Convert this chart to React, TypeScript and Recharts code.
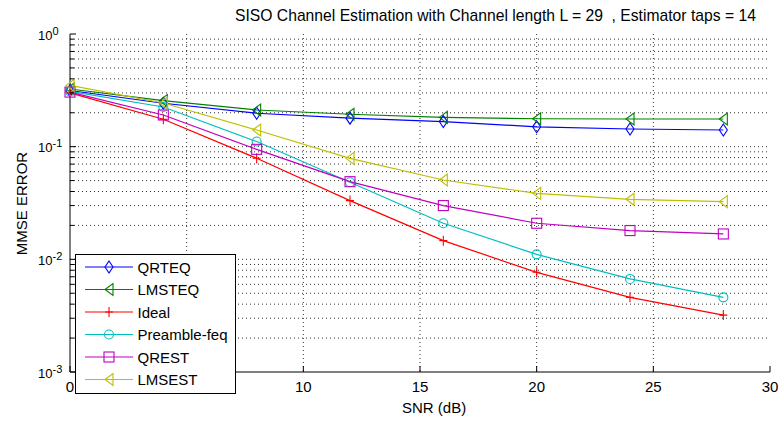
import { LineChart, Line, XAxis, YAxis, CartesianGrid } from 'recharts';

const FONT = '"Liberation Sans", Arial, Helvetica, sans-serif';

// SNR points (dB) and MMSE per estimator
const snr = [0, 4, 8, 12, 16, 20, 24, 28];
const qrteq = [0.315, 0.243, 0.198, 0.179, 0.167, 0.15, 0.1435, 0.1406];
const lmsteq = [0.325, 0.256, 0.2115, 0.194, 0.182, 0.177, 0.176, 0.176];
const ideal = [0.3, 0.175, 0.0789, 0.0332, 0.01465, 0.00767, 0.0046, 0.0032];
const preambleFeq = [0.31, 0.225, 0.111, 0.0483, 0.0209, 0.01107, 0.0067, 0.0046];
const qrest = [0.305, 0.191, 0.0947, 0.0489, 0.03, 0.0209, 0.018, 0.0168];
const lmsest = [0.35, 0.244, 0.1406, 0.0788, 0.0506, 0.0385, 0.0341, 0.0325];

const xTicks = [0, 5, 10, 15, 20, 25, 30];
const xGrid = [5, 10, 15, 20, 25];
const decades = [0.001, 0.01, 0.1, 1];
const minorSteps = [2, 3, 4, 5, 6, 7, 8, 9];

const minorTicks = decades.slice(0, 3).flatMap((d) => minorSteps.map((m) => +(d * m).toPrecision(3)));
const yTicks = [...decades, ...minorTicks].sort((a, b) => a - b);
const yGrid = [...minorTicks, 0.01, 0.1];

type Kind = 'diamond' | 'left' | 'plus' | 'circle' | 'square';

const series: { name: string; values: number[]; color: string; marker: Kind }[] = [
  { name: 'QRTEQ', values: qrteq, color: '#0000ff', marker: 'diamond' },
  { name: 'LMSTEQ', values: lmsteq, color: '#008000', marker: 'left' },
  { name: 'Ideal', values: ideal, color: '#ff0000', marker: 'plus' },
  { name: 'Preamble-feq', values: preambleFeq, color: '#00bfbf', marker: 'circle' },
  { name: 'QREST', values: qrest, color: '#bf00bf', marker: 'square' },
  { name: 'LMSEST', values: lmsest, color: '#bfbf00', marker: 'left' },
];

const rows = snr.map((x, i) => {
  const row: Record<string, number> = { snr: x };
  series.forEach((s) => {
    row[s.name] = s.values[i];
  });
  return row;
});

const Marker = ({ cx, cy, kind, color }: { cx: number; cy: number; kind: Kind; color: string }) => {
  const common = { fill: 'none', stroke: color, strokeWidth: 1.1 };
  switch (kind) {
    case 'diamond':
      return <polygon points={`${cx},${cy - 6} ${cx + 4},${cy} ${cx},${cy + 6} ${cx - 4},${cy}`} {...common} />;
    case 'left':
      return <polygon points={`${cx - 4},${cy} ${cx + 4},${cy - 6} ${cx + 4},${cy + 6}`} {...common} />;
    case 'plus':
      return <path d={`M${cx - 4},${cy}H${cx + 4}M${cx},${cy - 5}V${cy + 5}`} {...common} />;
    case 'circle':
      return <circle cx={cx} cy={cy} r={4.5} {...common} />;
    default:
      return <rect x={cx - 5} y={cy - 5} width={10} height={10} {...common} />;
  }
};

const isDecade = (v: number) => Math.abs(Math.log10(v) - Math.round(Math.log10(v))) < 1e-6;

const BottomTick = (props: any) => {
  const { x, y, payload } = props;
  return (
    <g>
      <line x1={x} y1={y} x2={x} y2={y - 6} stroke="#000" />
      <text x={x} y={y + 19.5} textAnchor="middle" fontSize={15} fill="#000" fontFamily={FONT}>
        {payload.value}
      </text>
    </g>
  );
};

const TopTick = (props: any) => {
  const { x, y } = props;
  return <line x1={x} y1={y} x2={x} y2={y + 6} stroke="#000" />;
};

const LeftTick = (props: any) => {
  const { x, y, payload } = props;
  const major = isDecade(payload.value);
  return (
    <g>
      <line x1={x} y1={y} x2={x + (major ? 6 : 4)} y2={y} stroke="#000" />
      {major && (
        <text x={x - 32} y={y + 5.5} fontSize={13} fill="#000" fontFamily={FONT}>
          10
          <tspan dy={-5} fontSize={11}>
            {Math.round(Math.log10(payload.value))}
          </tspan>
        </text>
      )}
    </g>
  );
};

const RightTick = (props: any) => {
  const { x, y, payload } = props;
  const major = isDecade(payload.value);
  return <line x1={x} y1={y} x2={x - (major ? 6 : 4)} y2={y} stroke="#000" />;
};

const LegendBox = () => (
  <g>
    <rect x={75.5} y={254.5} width={160} height={139} fill="#fff" stroke="#000" />
    {series.map((s, i) => {
      const cy = 267 + i * 22.5;
      return (
        <g key={s.name}>
          <line x1={85} y1={cy} x2={133} y2={cy} stroke={s.color} strokeWidth={1.2} />
          <Marker cx={109} cy={cy} kind={s.marker} color={s.color} />
          <text x={137.5} y={cy + 5.5} fontSize={15} fill="#000" fontFamily={FONT}>
            {s.name}
          </text>
        </g>
      );
    })}
  </g>
);

export default function App() {
  return (
    <div style={{ position: 'absolute', left: 0, top: 0, width: 782, height: 421, background: '#fff' }}>
      <LineChart width={782} height={421} data={rows} margin={{ top: 34, right: 12, bottom: 19, left: 10 }}>
        <CartesianGrid
          horizontalValues={yGrid}
          verticalValues={xGrid}
          stroke="#333"
          strokeDasharray="1 3"
        />
        <XAxis
          dataKey="snr"
          type="number"
          domain={[0, 30]}
          ticks={xTicks}
          interval={0}
          height={30}
          tickSize={0}
          tickMargin={0}
          tick={<BottomTick />}
          axisLine={{ stroke: '#000' }}
          tickLine={false}
        />
        <XAxis
          xAxisId="top"
          orientation="top"
          dataKey="snr"
          type="number"
          domain={[0, 30]}
          ticks={xTicks}
          interval={0}
          height={0}
          tickSize={0}
          tickMargin={0}
          tick={<TopTick />}
          axisLine={{ stroke: '#000' }}
          tickLine={false}
        />
        <YAxis
          type="number"
          scale="log"
          domain={[0.001, 1]}
          allowDataOverflow
          ticks={yTicks}
          interval={0}
          width={60}
          tickSize={0}
          tickMargin={0}
          tick={<LeftTick />}
          axisLine={{ stroke: '#000' }}
          tickLine={false}
        />
        <YAxis
          yAxisId="right"
          orientation="right"
          type="number"
          scale="log"
          domain={[0.001, 1]}
          allowDataOverflow
          ticks={yTicks}
          interval={0}
          width={0}
          tickSize={0}
          tickMargin={0}
          tick={<RightTick />}
          axisLine={{ stroke: '#000' }}
          tickLine={false}
        />
        {series.map((s) => (
          <Line
            key={s.name}
            type="linear"
            dataKey={s.name}
            stroke={s.color}
            strokeWidth={1.2}
            isAnimationActive={false}
            activeDot={false}
            dot={(p: any) => <Marker key={`${s.name}-${p.index}`} cx={p.cx} cy={p.cy} kind={s.marker} color={s.color} />}
          />
        ))}
      </LineChart>
      <svg width={782} height={421} style={{ position: 'absolute', left: 0, top: 0, pointerEvents: 'none' }}>
        <text x={235} y={21} fontSize={15.7} fill="#000" fontFamily={FONT} style={{ whiteSpace: 'pre' }}>
          {'SISO Channel Estimation with Channel length L = 29  , Estimator taps = 14'}
        </text>
        <text x={402} y={413} fontSize={15} fill="#000" fontFamily={FONT}>
          SNR (dB)
        </text>
        <text
          x={27}
          y={203.5}
          fontSize={15}
          fill="#000"
          fontFamily={FONT}
          textAnchor="middle"
          transform="rotate(-90 27 203.5)"
        >
          MMSE ERROR
        </text>
        <LegendBox />
      </svg>
    </div>
  );
}
